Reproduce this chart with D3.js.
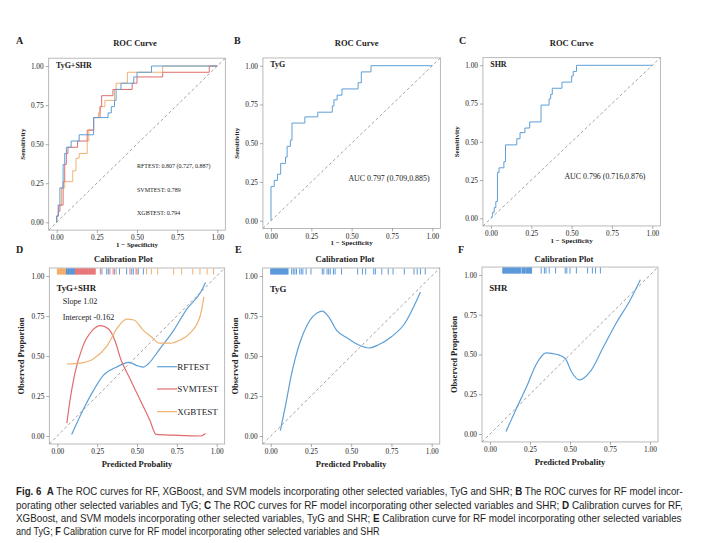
<!DOCTYPE html>
<html>
<head>
<meta charset="utf-8">
<script src="https://cdn.jsdelivr.net/npm/d3@7"></script>
<style>
body{margin:0;background:#fff;}
svg text{font-family:"Liberation Serif","Times New Roman",serif;fill:#222;}
.cap text{font-family:"Liberation Sans Narrow","Liberation Sans",Arial,sans-serif;fill:#1e1e1e;}
</style>
</head>
<body>
<svg id="fig" width="706" height="543"></svg>
<script>
// ---- ROC data (fpr = 1 - specificity, tpr = sensitivity) ----
const rfFpr   = [0,0,0.01,0.01,0.02,0.02,0.04,0.04,0.05,0.05,0.06,0.06,0.09,0.09,0.14,0.14,0.23,0.23,0.32,0.32,0.34,0.34,0.36,0.36,0.37,0.37,0.40,0.40,0.48,0.48,0.50,0.50,0.59,0.59,1];
const rfTpr   = [0,0.04,0.04,0.11,0.11,0.22,0.22,0.37,0.37,0.44,0.44,0.48,0.48,0.52,0.52,0.56,0.56,0.67,0.67,0.70,0.70,0.74,0.74,0.78,0.78,0.85,0.85,0.89,0.89,0.93,0.93,0.96,0.96,1,1];
const svmFpr  = [0,0,0.01,0.01,0.02,0.02,0.04,0.04,0.05,0.05,0.06,0.06,0.07,0.07,0.13,0.13,0.19,0.19,0.23,0.23,0.27,0.27,0.28,0.28,0.35,0.35,0.47,0.47,0.50,0.50,0.66,0.66,0.95,0.95,1];
const svmTpr  = [0,0.04,0.04,0.07,0.07,0.11,0.11,0.26,0.26,0.37,0.37,0.44,0.44,0.48,0.48,0.52,0.52,0.59,0.59,0.67,0.67,0.74,0.74,0.81,0.81,0.85,0.85,0.89,0.89,0.93,0.93,0.96,0.96,1,1];
const xgbFpr  = [0,0,0.01,0.01,0.03,0.03,0.05,0.05,0.10,0.10,0.12,0.12,0.14,0.14,0.19,0.19,0.20,0.20,0.23,0.23,0.26,0.26,0.27,0.27,0.30,0.30,0.36,0.36,0.37,0.37,0.44,0.44,0.66,0.66,1];
const xgbTpr  = [0,0.04,0.04,0.11,0.11,0.22,0.22,0.26,0.26,0.33,0.33,0.41,0.41,0.44,0.44,0.52,0.52,0.59,0.59,0.67,0.67,0.70,0.70,0.74,0.74,0.78,0.78,0.85,0.85,0.89,0.89,0.96,0.96,1,1];
const tygFpr  = [0,0,0.02,0.02,0.04,0.04,0.06,0.06,0.09,0.09,0.10,0.10,0.12,0.12,0.13,0.13,0.21,0.21,0.29,0.29,0.38,0.38,0.39,0.39,0.41,0.41,0.44,0.44,0.54,0.54,0.56,0.56,0.62,0.62,1];
const tygTpr  = [0,0.22,0.22,0.26,0.26,0.30,0.30,0.37,0.37,0.41,0.41,0.48,0.48,0.52,0.52,0.63,0.63,0.67,0.67,0.70,0.70,0.74,0.74,0.78,0.78,0.81,0.81,0.85,0.85,0.89,0.89,0.96,0.96,1,1];
const shrFpr  = [0,0.01,0.01,0.02,0.02,0.03,0.03,0.04,0.04,0.05,0.05,0.08,0.08,0.09,0.09,0.16,0.16,0.18,0.18,0.21,0.21,0.24,0.24,0.31,0.31,0.36,0.36,0.37,0.37,0.38,0.38,0.44,0.44,0.50,0.50,0.51,0.51,0.53,0.53,1];
const shrTpr  = [0,0.02,0.04,0.04,0.07,0.07,0.11,0.11,0.30,0.30,0.33,0.33,0.37,0.37,0.48,0.48,0.52,0.52,0.56,0.56,0.59,0.59,0.63,0.63,0.74,0.74,0.78,0.78,0.81,0.81,0.85,0.85,0.89,0.89,0.93,0.93,0.96,0.96,1,1];

// ---- calibration curves (predicted, observed) ----
const calRfX  = [0.09,0.16,0.23,0.29,0.37,0.45,0.50,0.54,0.57,0.64,0.73,0.81,0.90,0.93];
const calRfY  = [0.01,0.16,0.29,0.38,0.43,0.46,0.44,0.43,0.45,0.54,0.66,0.79,0.90,0.96];
const calSvmX = [0.06,0.08,0.11,0.16,0.22,0.27,0.32,0.36,0.40,0.45,0.52,0.58,0.62,0.73,0.90,0.93];
const calSvmY = [0.08,0.225,0.39,0.56,0.66,0.69,0.67,0.60,0.475,0.37,0.225,0.10,0.01,0.005,0.0,0.015];
const calXgbX = [0.06,0.14,0.23,0.31,0.38,0.435,0.48,0.54,0.59,0.64,0.71,0.77,0.83,0.895,0.92];
const calXgbY = [0.45,0.455,0.485,0.56,0.68,0.73,0.725,0.66,0.62,0.58,0.58,0.60,0.64,0.745,0.87];
const calTygX = [0.06,0.09,0.13,0.18,0.23,0.29,0.32,0.36,0.41,0.48,0.545,0.61,0.67,0.75,0.83,0.93];
const calTygY = [0.033,0.18,0.39,0.58,0.70,0.77,0.78,0.745,0.66,0.61,0.57,0.55,0.57,0.62,0.70,0.90];
const calShrX = [0.10,0.16,0.23,0.29,0.35,0.42,0.47,0.51,0.56,0.625,0.71,0.79,0.875,0.94];
const calShrY = [0.015,0.15,0.30,0.44,0.51,0.50,0.475,0.39,0.34,0.39,0.55,0.70,0.84,0.97];

// ---- rug (predicted probabilities) ----
const rugXgb  = [0.0,0.004,0.008,0.012,0.016,0.02,0.024,0.028,0.032,0.036,0.04,0.044,0.048,0.052,0.056,0.37,0.50,0.56,0.59,0.63,0.73,0.78,0.85,0.895,0.94,0.98];
const rugRf   = [0.058,0.062,0.066,0.07,0.074,0.078,0.082,0.086,0.09,0.094,0.098,0.102,0.106,0.11,0.28,0.31,0.32,0.36,0.39,0.435,0.467,0.477,0.508,0.54];
const rugSvm  = [0.114,0.118,0.122,0.126,0.13,0.134,0.138,0.142,0.146,0.15,0.154,0.158,0.162,0.166,0.17,0.174,0.178,0.182,0.186,0.19,0.194,0.198,0.202,0.206,0.21,0.214,0.218,0.222,0.226,0.23,0.234,0.238,0.27,0.33,0.35,0.456,0.494];
const rugTyg  = [0.0,0.004,0.008,0.012,0.016,0.02,0.024,0.028,0.032,0.036,0.04,0.044,0.048,0.052,0.056,0.06,0.064,0.068,0.072,0.076,0.08,0.084,0.088,0.092,0.096,0.10,0.104,0.108,0.13,0.14,0.15,0.16,0.18,0.19,0.20,0.22,0.25,0.32,0.33,0.35,0.36,0.37,0.39,0.40,0.44,0.54,0.57,0.59,0.64,0.65,0.69,0.73,0.76,0.83,0.89,0.91,0.93,0.96];
const rugShr  = [0.08,0.084,0.088,0.092,0.096,0.10,0.104,0.108,0.112,0.116,0.12,0.124,0.128,0.132,0.136,0.14,0.144,0.148,0.152,0.156,0.16,0.164,0.168,0.172,0.176,0.18,0.184,0.188,0.192,0.20,0.204,0.208,0.212,0.216,0.22,0.226,0.23,0.234,0.24,0.244,0.248,0.252,0.256,0.26,0.32,0.34,0.35,0.37,0.41,0.47,0.48,0.50,0.54,0.61,0.64,0.66,0.69];

const ticks   = [0,0.25,0.5,0.75,1];
const aucRows = ["RFTEST: 0.807 (0.727, 0.887)","SVMTEST: 0.789","XGBTEST: 0.794"];
const legKeys = ["RFTEST","SVMTEST","XGBTEST"];

const BLUE = "#5e9fd6", RED = "#e06c6e", ORANGE = "#f0b272";
const RUG_BLUE = "#4a8dd6", RUG_RED = "#e5696b", RUG_ORANGE = "#f2a55c";

let svg = d3.select('#fig');

function makeFrame(p){
    let g = svg.append('g'),
        x = d3.scaleLinear().domain([0,1]).range([p.x0,p.x1]),
        y = d3.scaleLinear().domain([0,1]).range([p.y0,p.y1]);

    g.append('rect')
        .attr('x', x(-0.05)).attr('y', y(1.05))
        .attr('width', x(1.05)-x(-0.05)).attr('height', y(-0.05)-y(1.05))
        .attr('fill','none').attr('stroke','#a9a9a9').attr('stroke-width',0.8);

    let fmt = d3.format('.2f');
    let xa = g.append('g').attr('transform',`translate(0,${y(-0.05)})`)
        .call(d3.axisBottom(x).tickValues(ticks).tickFormat(fmt).tickSize(3).tickPadding(2));
    let ya = g.append('g').attr('transform',`translate(${x(-0.05)},0)`)
        .call(d3.axisLeft(y).tickValues(ticks).tickFormat(fmt).tickSize(3).tickPadding(2));
    [xa,ya].forEach(a=>{
        a.select('.domain').remove();
        a.selectAll('line').attr('stroke','#777').attr('stroke-width',0.6);
        a.selectAll('text').attr('font-size','7.3px').attr('fill','#333')
            .attr('font-family','"Liberation Serif","Times New Roman",serif');
    });

    // diagonal reference
    g.append('line')
        .attr('x1',x(-0.05)).attr('y1',y(-0.05)).attr('x2',x(1.05)).attr('y2',y(1.05))
        .attr('stroke','#8c8c8c').attr('stroke-width',0.8).attr('stroke-dasharray','3,2.4');

    // panel letter and title
    svg.append('text').attr('x',p.lx).attr('y',p.ly).text(p.letter)
        .attr('font-size','10px').attr('font-weight','bold');
    svg.append('text').attr('x',p.tx).attr('y',p.ty).text(p.title)
        .attr('text-anchor','middle').attr('font-size','8.5px').attr('font-weight','bold');

    // axis titles
    let bot = y(-0.05), left = x(-0.05);
    g.append('text').attr('x',(x(-0.05)+x(1.05))/2).attr('y',bot+p.xtOff).text(p.xTitle)
        .attr('text-anchor','middle').attr('font-size',p.atSize).attr('font-weight','bold');
    g.append('text').attr('transform',`translate(${left-p.ytOff},${(y(-0.05)+y(1.05))/2}) rotate(-90)`)
        .text(p.yTitle).attr('text-anchor','middle').attr('font-size',p.atSize).attr('font-weight','bold');

    // inner label
    g.append('text').attr('x',x(-0.005)).attr('y',p.tagY).text(p.tag)
        .attr('font-size',p.tagSize).attr('font-weight','bold');

    return {g,x,y};
}

function makeRoc(p, curves){
    let f = makeFrame(Object.assign({title:'ROC Curve', xTitle:'1 \u2212 Specificity', yTitle:'Sensitivity',
                                     xtOff:17, ytOff:24, atSize:'7px', tagSize:'8px'}, p));
    let line = d3.line().x(d=>f.x(d[0])).y(d=>f.y(d[1]));
    curves.forEach(c=>{
        f.g.append('path')
            .datum(d3.zip(c.fpr,c.tpr))
            .attr('fill','none').attr('stroke',c.color).attr('stroke-width',1)
            .attr('d',line);
    });
    return f;
}

function makeCal(p, curves, rugs){
    let f = makeFrame(Object.assign({title:'Calibration Plot', xTitle:'Predicted Probality', yTitle:'Observed Proportion',
                                     xtOff:23, ytOff:25, atSize:'8.5px', tagSize:'8.8px'}, p));
    let top = f.y(1.05);
    rugs.forEach(r=>{
        f.g.selectAll(null)
            .data(r.vals)
            .enter()
            .append('line')
            .attr('x1',d=>f.x(d)).attr('x2',d=>f.x(d))
            .attr('y1',top+0.5).attr('y2',top+6.5)
            .attr('stroke',r.color).attr('stroke-width',0.9);
    });
    let line = d3.line().curve(d3.curveMonotoneX).x(d=>f.x(d[0])).y(d=>f.y(d[1]));
    curves.forEach(c=>{
        f.g.append('path')
            .datum(d3.zip(c.xs,c.ys))
            .attr('fill','none').attr('stroke',c.color).attr('stroke-width',1.2)
            .attr('d',line);
    });
    return f;
}

// ---- A ----
let a = makeRoc({x0:56.7,x1:217.3,y0:222.3,y1:66, letter:'A',lx:16,ly:44, tx:135,ty:45.5, tag:'TyG+SHR',tagY:67.5},
    [{fpr:xgbFpr,tpr:xgbTpr,color:ORANGE},{fpr:svmFpr,tpr:svmTpr,color:RED},{fpr:rfFpr,tpr:rfTpr,color:BLUE}]);
a.g.selectAll('.auc')
    .data(aucRows)
    .enter()
    .append('text')
    .attr('x',a.x(0.5)).attr('y',(d,i)=>a.y([0.36,0.21,0.06][i])).attr('dy','0.35em')
    .attr('font-size','6px').text(d=>d);

// ---- B ----
let b = makeRoc({x0:271,x1:432.3,y0:220.7,y1:65.7, letter:'B',lx:234,ly:44, tx:356.7,ty:45.5, tag:'TyG',tagY:67},
    [{fpr:tygFpr,tpr:tygTpr,color:BLUE}]);
b.g.append('text').attr('x',b.x(0.48)).attr('y',b.y(0.277)).attr('dy','0.35em')
    .attr('font-size','7.9px').text('AUC 0.797 (0.709,0.885)');

// ---- C ----
let c = makeRoc({x0:491,x1:652.3,y0:218.3,y1:65.3, letter:'C',lx:459,ly:44, tx:571.7,ty:45.5, tag:'SHR',tagY:67},
    [{fpr:shrFpr,tpr:shrTpr,color:BLUE}]);
c.g.append('text').attr('x',c.x(0.455)).attr('y',c.y(0.272)).attr('dy','0.35em')
    .attr('font-size','7.9px').text('AUC 0.796 (0.716,0.876)');

// ---- D ----
let d = makeCal({x0:57.3,x1:216.7,y0:436,y1:276, letter:'D',lx:16,ly:253, tx:123.5,ty:262, tag:'TyG+SHR',tagY:290.7},
    [{xs:calRfX,ys:calRfY,color:BLUE},{xs:calSvmX,ys:calSvmY,color:RED},{xs:calXgbX,ys:calXgbY,color:ORANGE}],
    [{vals:rugXgb,color:RUG_ORANGE},{vals:rugRf,color:RUG_BLUE},{vals:rugSvm,color:RUG_RED}]);
d.g.append('text').attr('x',d.x(0.034)).attr('y',d.y(0.84)).attr('dy','0.35em').attr('font-size','8.1px').text('Slope 1.02');
d.g.append('text').attr('x',d.x(0.034)).attr('y',d.y(0.745)).attr('dy','0.35em').attr('font-size','8.1px').text('Intercept -0.162');
let legCol = [BLUE,RED,ORANGE], legY = [0.433,0.294,0.152];
let leg = d.g.selectAll('.leg')
    .data(legKeys)
    .enter()
    .append('g')
    .attr('transform',(k,i)=>`translate(0,${d.y(legY[i])})`);
leg.append('line').attr('x1',d.x(0.626)).attr('x2',d.x(0.752)).attr('stroke',(k,i)=>legCol[i]).attr('stroke-width',1.2);
leg.append('text').attr('x',d.x(0.752)).attr('dy','0.35em').attr('font-size','9px').text(k=>k);

// ---- E ----
makeCal({x0:270.7,x1:431.7,y0:436,y1:276, letter:'E',lx:235,ly:253, tx:345,ty:262, tag:'TyG',tagY:291.5},
    [{xs:calTygX,ys:calTygY,color:BLUE}],
    [{vals:rugTyg,color:RUG_BLUE}]);

// ---- F ----
makeCal({x0:490,x1:650,y0:434,y1:275, letter:'F',lx:458,ly:253, tx:564,ty:261.5, tag:'SHR',tagY:290.8},
    [{xs:calShrX,ys:calShrY,color:BLUE}],
    [{vals:rugShr,color:RUG_BLUE}]);

// ---- caption ----
const capLines = [
    [["Fig. 6",1],["  ",0],["A",1],[" The ROC curves for RF, XGBoost, and SVM models incorporating other selected variables, TyG and SHR; ",0],["B",1],[" The ROC curves for RF model incor-",0]],
    [["porating other selected variables and TyG; ",0],["C",1],[" The ROC curves for RF model incorporating other selected variables and SHR; ",0],["D",1],[" Calibration curves for RF,",0]],
    [["XGBoost, and SVM models incorporating other selected variables, TyG and SHR; ",0],["E",1],[" Calibration curve for RF model incorporating other selected variables",0]],
    [["and TyG; ",0],["F",1],[" Calibration curve for RF model incorporating other selected variables and SHR",0]]
];
const capWidth = [667,667,667,364];
const capY     = [495,508.5,521.5,534.5];

let cap = svg.append('g').attr('class','cap');
capLines.forEach((parts,i)=>{
    let t = cap.append('text').attr('font-size','10.5px').attr('xml:space','preserve').style('white-space','pre');
    parts.forEach(pt=>{
        t.append('tspan').text(pt[0]).attr('font-weight',pt[1]?'bold':'normal');
    });
    let w = t.node().getComputedTextLength(),
        k = capWidth[i]/w;
    t.attr('transform',`translate(16,${capY[i]}) scale(${k},1)`);
});
</script>
</body>
</html>
